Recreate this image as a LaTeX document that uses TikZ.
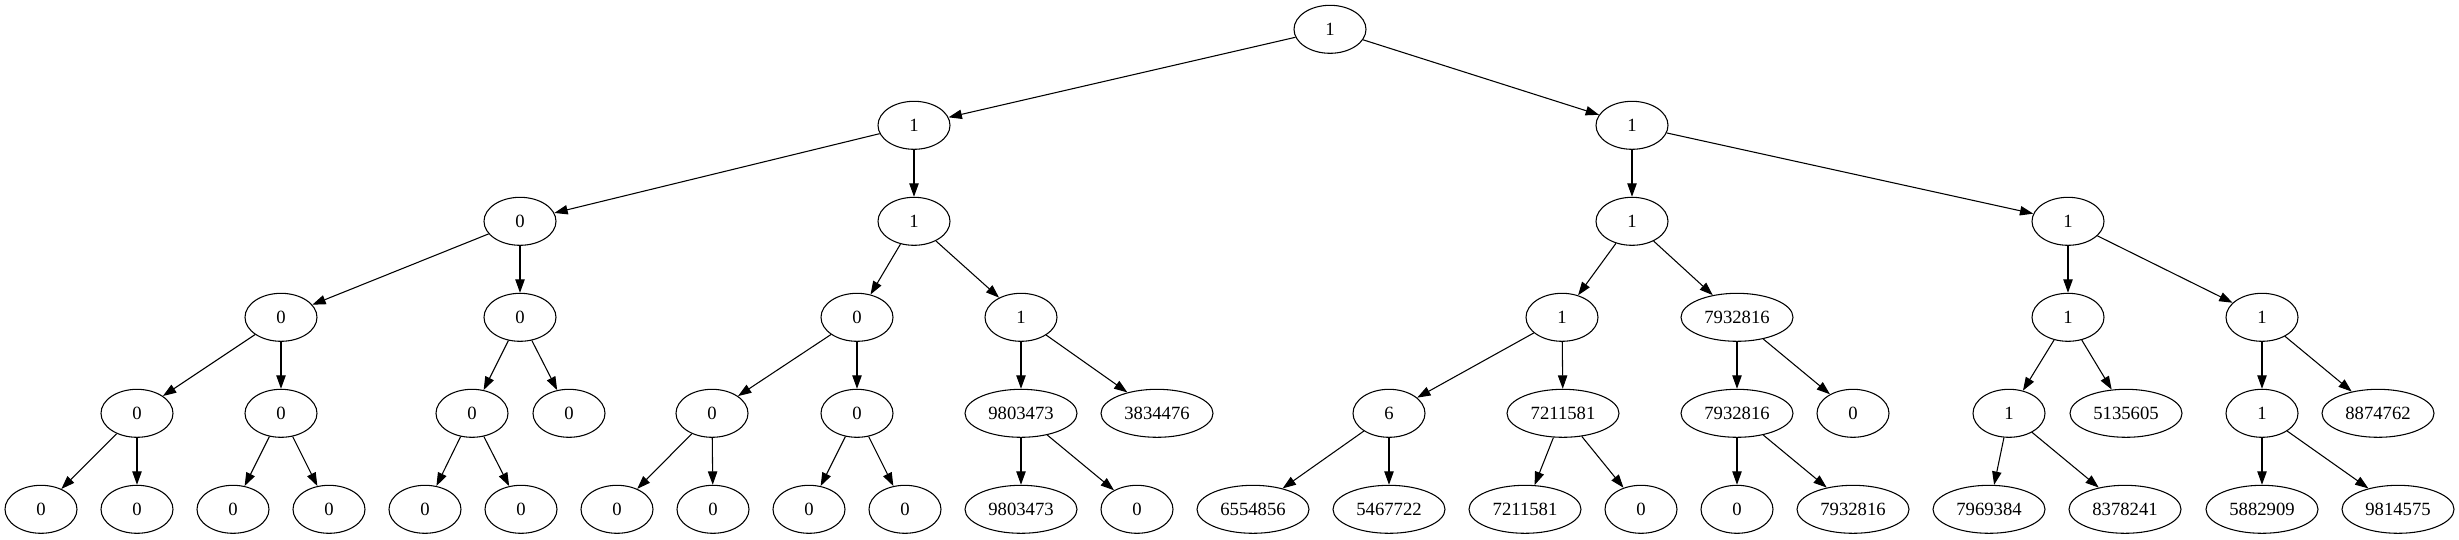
\documentclass[tikz,border=0pt]{standalone}
\usepackage{fontspec}
\setmainfont{Liberation Serif}
\usetikzlibrary{shapes.geometric, arrows.meta}
\tikzset{bit/.style={ellipse, draw, line width=0.8pt, minimum width=54pt, minimum height=36pt, inner sep=0pt, font=\fontsize{14pt}{16pt}\selectfont}}
\tikzset{word/.style={bit, minimum width=84pt}}
\tikzset{link/.style={-{Triangle[length=10pt, width=7pt]}, line width=0.8pt}}

\begin{document}
\begin{tikzpicture}[x=0.75pt, y=-0.75pt]
    \useasboundingbox (0,0) rectangle (2459,539);

    \node [bit] (t) at (1330, 29.3) {1};

    \node [bit] (l) at (914, 125.3) {1};
    \node [bit] (r) at (1632, 125.3) {1};

    \node [bit] (ll) at (520, 221.3) {0};
    \node [bit] (lr) at (914, 221.3) {1};
    \node [bit] (rl) at (1632, 221.3) {1};
    \node [bit] (rr) at (2068, 221.3) {1};

    \node [bit] (lll) at (281, 317.3) {0};
    \node [bit] (llr) at (520, 317.3) {0};
    \node [bit] (lrl) at (857, 317.3) {0};
    \node [bit] (lrr) at (1021, 317.3) {1};
    \node [bit] (rll) at (1562, 317.3) {1};
    \node [word] (rlr) at (1737, 317.3) {7932816};
    \node [bit] (rrl) at (2068, 317.3) {1};
    \node [bit] (rrr) at (2262, 317.3) {1};

    \node [bit] (llll) at (137, 413.3) {0};
    \node [bit] (lllr) at (281, 413.3) {0};
    \node [bit] (llrl) at (472, 413.3) {0};
    \node [bit] (llrr) at (569, 413.3) {0};
    \node [bit] (lrll) at (712, 413.3) {0};
    \node [bit] (lrlr) at (857, 413.3) {0};
    \node [word] (lrrl) at (1021, 413.3) {9803473};
    \node [word] (lrrr) at (1157, 413.3) {3834476};
    \node [bit] (rlll) at (1389, 413.3) {6};
    \node [word] (rllr) at (1563, 413.3) {7211581};
    \node [word] (rlrl) at (1737, 413.3) {7932816};
    \node [bit] (rlrr) at (1853, 413.3) {0};
    \node [bit] (rrll) at (2009, 413.3) {1};
    \node [word] (rrlr) at (2126, 413.3) {5135605};
    \node [bit] (rrrl) at (2262, 413.3) {1};
    \node [word] (rrrr) at (2378, 413.3) {8874762};

    \node [bit] (lllll) at (41, 509.3) {0};
    \node [bit] (llllr) at (137, 509.3) {0};
    \node [bit] (lllrl) at (233, 509.3) {0};
    \node [bit] (lllrr) at (329, 509.3) {0};
    \node [bit] (llrll) at (425, 509.3) {0};
    \node [bit] (llrlr) at (521, 509.3) {0};
    \node [bit] (lrlll) at (617, 509.3) {0};
    \node [bit] (lrllr) at (713, 509.3) {0};
    \node [bit] (lrlrl) at (809, 509.3) {0};
    \node [bit] (lrlrr) at (905, 509.3) {0};
    \node [word] (lrrll) at (1021, 509.3) {9803473};
    \node [bit] (lrrlr) at (1137, 509.3) {0};
    \node [word] (rllll) at (1253, 509.3) {6554856};
    \node [word] (rlllr) at (1389, 509.3) {5467722};
    \node [word] (rllrl) at (1525, 509.3) {7211581};
    \node [bit] (rllrr) at (1641, 509.3) {0};
    \node [bit] (rlrll) at (1737, 509.3) {0};
    \node [word] (rlrlr) at (1853, 509.3) {7932816};
    \node [word] (rrlll) at (1989, 509.3) {7969384};
    \node [word] (rrllr) at (2125, 509.3) {8378241};
    \node [word] (rrrll) at (2262, 509.3) {5882909};
    \node [word] (rrrlr) at (2398, 509.3) {9814575};

    \draw [link] (t) -- (l);
    \draw [link] (t) -- (r);

    \draw [link] (l) -- (ll);
    \draw [link] (l) -- (lr);
    \draw [link] (r) -- (rl);
    \draw [link] (r) -- (rr);

    \draw [link] (ll) -- (lll);
    \draw [link] (ll) -- (llr);
    \draw [link] (lr) -- (lrl);
    \draw [link] (lr) -- (lrr);
    \draw [link] (rl) -- (rll);
    \draw [link] (rl) -- (rlr);
    \draw [link] (rr) -- (rrl);
    \draw [link] (rr) -- (rrr);

    \draw [link] (lll) -- (llll);
    \draw [link] (lll) -- (lllr);
    \draw [link] (llr) -- (llrl);
    \draw [link] (llr) -- (llrr);
    \draw [link] (lrl) -- (lrll);
    \draw [link] (lrl) -- (lrlr);
    \draw [link] (lrr) -- (lrrl);
    \draw [link] (lrr) -- (lrrr);
    \draw [link] (rll) -- (rlll);
    \draw [link] (rll) -- (rllr);
    \draw [link] (rlr) -- (rlrl);
    \draw [link] (rlr) -- (rlrr);
    \draw [link] (rrl) -- (rrll);
    \draw [link] (rrl) -- (rrlr);
    \draw [link] (rrr) -- (rrrl);
    \draw [link] (rrr) -- (rrrr);

    \draw [link] (llll) -- (lllll);
    \draw [link] (llll) -- (llllr);
    \draw [link] (lllr) -- (lllrl);
    \draw [link] (lllr) -- (lllrr);
    \draw [link] (llrl) -- (llrll);
    \draw [link] (llrl) -- (llrlr);
    \draw [link] (lrll) -- (lrlll);
    \draw [link] (lrll) -- (lrllr);
    \draw [link] (lrlr) -- (lrlrl);
    \draw [link] (lrlr) -- (lrlrr);
    \draw [link] (lrrl) -- (lrrll);
    \draw [link] (lrrl) -- (lrrlr);
    \draw [link] (rlll) -- (rllll);
    \draw [link] (rlll) -- (rlllr);
    \draw [link] (rllr) -- (rllrl);
    \draw [link] (rllr) -- (rllrr);
    \draw [link] (rlrl) -- (rlrll);
    \draw [link] (rlrl) -- (rlrlr);
    \draw [link] (rrll) -- (rrlll);
    \draw [link] (rrll) -- (rrllr);
    \draw [link] (rrrl) -- (rrrll);
    \draw [link] (rrrl) -- (rrrlr);

\end{tikzpicture}
\end{document}
